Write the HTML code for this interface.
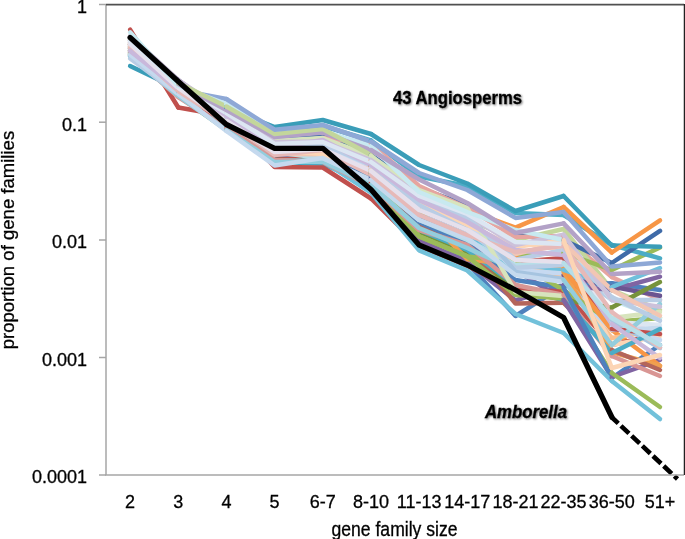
<!DOCTYPE html>
<html><head><meta charset="utf-8"><style>
html,body{margin:0;padding:0;background:#fff;width:685px;height:539px;overflow:hidden}
svg{display:block;will-change:transform}
text{font-family:"Liberation Sans",sans-serif;fill:#000;stroke:#000;stroke-width:0.3px}
</style></head><body>
<svg width="685" height="539" viewBox="0 0 685 539">
<defs><filter id="sh" x="-10%" y="-30%" width="120%" height="160%"><feGaussianBlur in="SourceAlpha" stdDeviation="0.9"/><feOffset dx="1" dy="1.3" result="b"/><feComponentTransfer><feFuncA type="linear" slope="0.55"/></feComponentTransfer><feMerge><feMergeNode/><feMergeNode in="SourceGraphic"/></feMerge></filter></defs>
<g fill="none" stroke-linejoin="round" stroke-linecap="round">
<polyline points="130.1,48.0 178.3,92.0" stroke="#4F81BD" stroke-width="4.5"/>
<polyline points="130.1,46.0 178.3,90.0" stroke="#8064A2" stroke-width="4.5"/>
<polyline points="130.1,42.0 178.3,80.0" stroke="#6B5591" stroke-width="4.5"/>
<polyline points="130.1,53.0 178.3,95.0" stroke="#77933C" stroke-width="4.5"/>
<polyline points="130.1,40.0 178.3,82.0" stroke="#3F6BA8" stroke-width="4.5"/>
<polyline points="130.1,51.0 178.3,90.0" stroke="#9BBB59" stroke-width="4.5"/>
<polyline points="130.1,55.0 178.3,88.0" stroke="#4BACC6" stroke-width="4.5"/>
<polyline points="130.1,50.0 178.3,94.0" stroke="#C0504D" stroke-width="4.5"/>
<polyline points="130.1,52.0 178.3,94.0" stroke="#B4655A" stroke-width="4.5"/>
<polyline points="130.1,54.0 178.3,95.0" stroke="#4BACC6" stroke-width="4.5"/>
<polyline points="130.1,48.0 178.3,92.0" stroke="#F0A050" stroke-width="4.5"/>
<polyline points="130.1,44.0 178.3,86.0" stroke="#8064A2" stroke-width="4.5"/>
<polyline points="130.1,50.0 178.3,90.0" stroke="#4F81BD" stroke-width="4.5"/>
<polyline points="130.1,47.0 178.3,89.0" stroke="#9BBB59" stroke-width="4.5"/>
<polyline points="130.1,44.0 178.3,86.0" stroke="#F79646" stroke-width="4.5"/>
<polyline points="130.1,48.0 178.3,92.0" stroke="#6FC0DC" stroke-width="4.5"/>
<polyline points="130.1,45.0 178.3,90.0" stroke="#8EA8D6" stroke-width="4.5"/>
<polyline points="130.1,50.0 178.3,83.0" stroke="#C3D69B" stroke-width="4.5"/>
<polyline points="130.1,52.0 178.3,84.0" stroke="#B3A2C7" stroke-width="4.5"/>
<polyline points="130.1,44.0 178.3,88.0" stroke="#F79646" stroke-width="4.5"/>
<polyline points="130.1,54.0 178.3,96.0" stroke="#9BBB59" stroke-width="4.5"/>
<polyline points="130.1,56.0 178.3,96.0" stroke="#72C1DA" stroke-width="4.5"/>
<polyline points="130.1,66.0 178.3,89.0" stroke="#3A9DB8" stroke-width="4.5"/>
<polyline points="130.1,29.6 178.3,107.5" stroke="#C0504D" stroke-width="4.5"/>
<polyline points="130.1,55.0 178.3,97.0" stroke="#D99694" stroke-width="4.5"/>
<polyline points="130.1,56.0 178.3,96.0" stroke="#93CDDD" stroke-width="4.5"/>
<polyline points="130.1,45.0 178.3,88.0" stroke="#FAC090" stroke-width="4.5"/>
<polyline points="130.1,44.0 178.3,88.0" stroke="#B7DEE8" stroke-width="4.5"/>
<polyline points="130.1,46.0 178.3,90.0" stroke="#C6D9F1" stroke-width="4.5"/>
<polyline points="130.1,43.0 178.3,86.0" stroke="#FCD5B5" stroke-width="4.5"/>
<polyline points="130.1,47.0 178.3,90.0" stroke="#F2C6B4" stroke-width="4.5"/>
<polyline points="130.1,46.0 178.3,90.0" stroke="#FCD5B5" stroke-width="4.5"/>
<polyline points="130.1,44.0 178.3,87.0" stroke="#B9CDE5" stroke-width="4.5"/>
<polyline points="130.1,40.0 178.3,85.0" stroke="#E6A5A0" stroke-width="4.5"/>
<polyline points="130.1,39.0 178.3,83.0" stroke="#A6C4E0" stroke-width="4.5"/>
<polyline points="130.1,40.0 178.3,84.0" stroke="#D7E4BD" stroke-width="4.5"/>
<polyline points="130.1,36.0 178.3,80.0" stroke="#CCC1DA" stroke-width="4.5"/>
<polyline points="130.1,58.5 178.3,94.0" stroke="#B9CDE5" stroke-width="4.5"/>
<polyline points="130.1,54.5 178.3,94.0" stroke="#C5D9EE" stroke-width="4.5"/>
<polyline points="130.1,48.0 178.3,91.0" stroke="#E6B9B8" stroke-width="4.5"/>
<polyline points="130.1,51.0 178.3,89.0" stroke="#C9B8DB" stroke-width="4.5"/>
<polyline points="130.1,44.0 178.3,88.0" stroke="#E6E0EC" stroke-width="4.5"/>
<polyline points="130.1,41.0 178.3,84.0" stroke="#DCE6F2" stroke-width="4.5"/>
<polyline points="130.1,32.3 178.3,86.0" stroke="#C8E9F0" stroke-width="4.5"/>
<polyline points="178.3,92.0 226.4,125.0" stroke="#4F81BD" stroke-width="4.5"/>
<polyline points="178.3,90.0 226.4,122.0" stroke="#8064A2" stroke-width="4.5"/>
<polyline points="178.3,80.0 226.4,115.0" stroke="#6B5591" stroke-width="4.5"/>
<polyline points="178.3,95.0 226.4,128.0" stroke="#77933C" stroke-width="4.5"/>
<polyline points="178.3,82.0 226.4,112.0" stroke="#3F6BA8" stroke-width="4.5"/>
<polyline points="178.3,90.0 226.4,118.0" stroke="#9BBB59" stroke-width="4.5"/>
<polyline points="178.3,88.0 226.4,106.0" stroke="#4BACC6" stroke-width="4.5"/>
<polyline points="178.3,94.0 226.4,126.0" stroke="#C0504D" stroke-width="4.5"/>
<polyline points="178.3,94.0 226.4,125.0" stroke="#B4655A" stroke-width="4.5"/>
<polyline points="178.3,95.0 226.4,126.0" stroke="#4BACC6" stroke-width="4.5"/>
<polyline points="178.3,92.0 226.4,120.0" stroke="#F0A050" stroke-width="4.5"/>
<polyline points="178.3,86.0 226.4,117.0" stroke="#8064A2" stroke-width="4.5"/>
<polyline points="178.3,90.0 226.4,121.0" stroke="#4F81BD" stroke-width="4.5"/>
<polyline points="178.3,89.0 226.4,119.0" stroke="#9BBB59" stroke-width="4.5"/>
<polyline points="178.3,86.0 226.4,113.0" stroke="#F79646" stroke-width="4.5"/>
<polyline points="178.3,92.0 226.4,118.0" stroke="#6FC0DC" stroke-width="4.5"/>
<polyline points="178.3,90.0 226.4,99.0" stroke="#8EA8D6" stroke-width="4.5"/>
<polyline points="178.3,88.0 226.4,112.0" stroke="#F79646" stroke-width="4.5"/>
<polyline points="178.3,96.0 226.4,130.0" stroke="#9BBB59" stroke-width="4.5"/>
<polyline points="178.3,96.0 226.4,128.0" stroke="#72C1DA" stroke-width="4.5"/>
<polyline points="178.3,89.0 226.4,108.0" stroke="#3A9DB8" stroke-width="4.5"/>
<polyline points="178.3,107.5 226.4,116.0" stroke="#C0504D" stroke-width="4.5"/>
<polyline points="178.3,85.0 226.4,112.0" stroke="#E6A5A0" stroke-width="4.5"/>
<polyline points="178.3,97.0 226.4,128.0" stroke="#D99694" stroke-width="4.5"/>
<polyline points="178.3,96.0 226.4,130.0" stroke="#93CDDD" stroke-width="4.5"/>
<polyline points="178.3,88.0 226.4,118.0" stroke="#FAC090" stroke-width="4.5"/>
<polyline points="178.3,88.0 226.4,120.0" stroke="#B7DEE8" stroke-width="4.5"/>
<polyline points="178.3,90.0 226.4,119.0" stroke="#C6D9F1" stroke-width="4.5"/>
<polyline points="178.3,86.0 226.4,116.0" stroke="#FCD5B5" stroke-width="4.5"/>
<polyline points="178.3,90.0 226.4,117.0" stroke="#F2C6B4" stroke-width="4.5"/>
<polyline points="178.3,90.0 226.4,118.0" stroke="#FCD5B5" stroke-width="4.5"/>
<polyline points="178.3,87.0 226.4,117.0" stroke="#B9CDE5" stroke-width="4.5"/>
<polyline points="178.3,83.0 226.4,113.0" stroke="#A6C4E0" stroke-width="4.5"/>
<polyline points="178.3,84.0 226.4,111.0" stroke="#D7E4BD" stroke-width="4.5"/>
<polyline points="178.3,80.0 226.4,112.0" stroke="#CCC1DA" stroke-width="4.5"/>
<polyline points="178.3,94.0 226.4,114.0" stroke="#B9CDE5" stroke-width="4.5"/>
<polyline points="178.3,94.0 226.4,131.0" stroke="#C5D9EE" stroke-width="4.5"/>
<polyline points="178.3,89.0 226.4,116.0" stroke="#C9B8DB" stroke-width="4.5"/>
<polyline points="178.3,91.0 226.4,122.0" stroke="#E6B9B8" stroke-width="4.5"/>
<polyline points="178.3,88.0 226.4,121.0" stroke="#E6E0EC" stroke-width="4.5"/>
<polyline points="178.3,84.0 226.4,113.0" stroke="#DCE6F2" stroke-width="4.5"/>
<polyline points="178.3,86.0 226.4,104.0" stroke="#C8E9F0" stroke-width="4.5"/>
<polyline points="178.3,84.0 226.4,110.0" stroke="#B3A2C7" stroke-width="4.5"/>
<polyline points="178.3,83.0 226.4,106.5" stroke="#C3D69B" stroke-width="4.5"/>
<polyline points="226.4,125.0 274.6,158.0 322.8,156.0 371.0,180.0" stroke="#4F81BD" stroke-width="4.5"/>
<polyline points="226.4,122.0 274.6,155.0 322.8,152.0 371.0,178.0" stroke="#8064A2" stroke-width="4.5"/>
<polyline points="226.4,115.0 274.6,147.0 322.8,143.0 371.0,166.0" stroke="#6B5591" stroke-width="4.5"/>
<polyline points="226.4,128.0 274.6,160.0 322.8,158.0 371.0,184.0" stroke="#77933C" stroke-width="4.5"/>
<polyline points="226.4,112.0 274.6,140.0 322.8,136.0 371.0,155.0" stroke="#3F6BA8" stroke-width="4.5"/>
<polyline points="226.4,118.0 274.6,150.0 322.8,146.0 371.0,170.0" stroke="#9BBB59" stroke-width="4.5"/>
<polyline points="226.4,106.0 274.6,131.0 322.8,126.0 371.0,140.5" stroke="#4BACC6" stroke-width="4.5"/>
<polyline points="226.4,126.0 274.6,160.0 322.8,157.0 371.0,183.0" stroke="#C0504D" stroke-width="4.5"/>
<polyline points="226.4,125.0 274.6,160.0 322.8,160.0 371.0,185.0" stroke="#B4655A" stroke-width="4.5"/>
<polyline points="226.4,126.0 274.6,162.0 322.8,163.8 371.0,186.0" stroke="#4BACC6" stroke-width="4.5"/>
<polyline points="226.4,120.0 274.6,153.8 322.8,153.0 371.0,172.0" stroke="#F0A050" stroke-width="4.5"/>
<polyline points="226.4,117.0 274.6,150.0 322.8,148.0 371.0,173.0" stroke="#8064A2" stroke-width="4.5"/>
<polyline points="226.4,121.0 274.6,154.0 322.8,152.0 371.0,176.0" stroke="#4F81BD" stroke-width="4.5"/>
<polyline points="226.4,119.0 274.6,152.0 322.8,150.0 371.0,174.0" stroke="#9BBB59" stroke-width="4.5"/>
<polyline points="226.4,113.0 274.6,153.8 322.8,153.8 371.0,166.0" stroke="#F79646" stroke-width="4.5"/>
<polyline points="226.4,118.0 274.6,150.0 322.8,150.0 371.0,172.0" stroke="#6FC0DC" stroke-width="4.5"/>
<polyline points="226.4,116.0 274.6,167.0 322.8,167.5 371.0,198.5" stroke="#C0504D" stroke-width="4.5"/>
<polyline points="226.4,130.0 274.6,162.0 322.8,160.0 371.0,185.0" stroke="#9BBB59" stroke-width="4.5"/>
<polyline points="226.4,128.0 274.6,160.0 322.8,161.0 371.0,192.5" stroke="#72C1DA" stroke-width="4.5"/>
<polyline points="226.4,112.0 274.6,150.0 322.8,145.0 371.0,160.0" stroke="#F79646" stroke-width="4.5"/>
<polyline points="226.4,108.0 274.6,127.0 322.8,120.0 371.0,134.0" stroke="#3A9DB8" stroke-width="4.5"/>
<polyline points="226.4,112.0 274.6,144.0 322.8,138.0 371.0,143.4" stroke="#E6A5A0" stroke-width="4.5"/>
<polyline points="226.4,128.0 274.6,160.0 322.8,162.0 371.0,186.0" stroke="#D99694" stroke-width="4.5"/>
<polyline points="226.4,130.0 274.6,162.0 322.8,161.6 371.0,185.0" stroke="#93CDDD" stroke-width="4.5"/>
<polyline points="226.4,118.0 274.6,151.0 322.8,149.0 371.0,168.0" stroke="#FAC090" stroke-width="4.5"/>
<polyline points="226.4,120.0 274.6,152.0 322.8,158.2 371.0,180.0" stroke="#B7DEE8" stroke-width="4.5"/>
<polyline points="226.4,119.0 274.6,150.0 322.8,146.0 371.0,168.0" stroke="#C6D9F1" stroke-width="4.5"/>
<polyline points="226.4,116.0 274.6,147.0 322.8,143.0 371.0,160.0" stroke="#FCD5B5" stroke-width="4.5"/>
<polyline points="226.4,117.0 274.6,154.0 322.8,154.3 371.0,170.0" stroke="#F2C6B4" stroke-width="4.5"/>
<polyline points="226.4,118.0 274.6,150.0 322.8,154.0 371.0,172.0" stroke="#FCD5B5" stroke-width="4.5"/>
<polyline points="226.4,117.0 274.6,148.0 322.8,144.0 371.0,165.0" stroke="#B9CDE5" stroke-width="4.5"/>
<polyline points="226.4,113.0 274.6,140.5 322.8,139.0 371.0,158.0" stroke="#A6C4E0" stroke-width="4.5"/>
<polyline points="226.4,111.0 274.6,141.0 322.8,138.0 371.0,156.0" stroke="#D7E4BD" stroke-width="4.5"/>
<polyline points="226.4,112.0 274.6,142.0 322.8,141.5 371.0,160.0" stroke="#CCC1DA" stroke-width="4.5"/>
<polyline points="226.4,114.0 274.6,145.0 322.8,145.0 371.0,163.0" stroke="#B9CDE5" stroke-width="4.5"/>
<polyline points="226.4,131.0 274.6,165.5 322.8,158.0 371.0,180.0" stroke="#C5D9EE" stroke-width="4.5"/>
<polyline points="226.4,116.0 274.6,148.0 322.8,140.0 371.0,165.0" stroke="#C9B8DB" stroke-width="4.5"/>
<polyline points="226.4,122.0 274.6,155.0 322.8,150.0 371.0,175.0" stroke="#E6B9B8" stroke-width="4.5"/>
<polyline points="226.4,121.0 274.6,152.0 322.8,149.0 371.0,171.0" stroke="#E6E0EC" stroke-width="4.5"/>
<polyline points="226.4,113.0 274.6,144.0 322.8,142.0 371.0,162.0" stroke="#DCE6F2" stroke-width="4.5"/>
<polyline points="226.4,104.0 274.6,132.0 322.8,131.0 371.0,146.0" stroke="#C8E9F0" stroke-width="4.5"/>
<polyline points="226.4,110.0 274.6,137.0 322.8,132.6 371.0,150.0" stroke="#B3A2C7" stroke-width="4.5"/>
<polyline points="226.4,106.5 274.6,134.0 322.8,129.0 371.0,155.0" stroke="#C3D69B" stroke-width="4.5"/>
<polyline points="226.4,99.0 274.6,129.7 322.8,125.0 371.0,141.5" stroke="#8EA8D6" stroke-width="4.5"/>
<polyline points="371.0,180.0 419.1,226.0 467.3,263.0 515.5,316.0 563.6,285.6" stroke="#4F81BD" stroke-width="4.5"/>
<polyline points="371.0,178.0 419.1,240.0 467.3,262.0 515.5,300.5 563.6,285.0" stroke="#8064A2" stroke-width="4.5"/>
<polyline points="371.0,166.0 419.1,210.0 467.3,230.0 515.5,260.0 563.6,275.0" stroke="#6B5591" stroke-width="4.5"/>
<polyline points="371.0,184.0 419.1,232.0 467.3,252.0 515.5,290.0 563.6,299.7" stroke="#77933C" stroke-width="4.5"/>
<polyline points="371.0,155.0 419.1,188.0 467.3,205.0 515.5,235.0 563.6,240.0" stroke="#3F6BA8" stroke-width="4.5"/>
<polyline points="371.0,170.0 419.1,210.0 467.3,228.0 515.5,255.0 563.6,252.7" stroke="#9BBB59" stroke-width="4.5"/>
<polyline points="371.0,140.5 419.1,176.5 467.3,186.0 515.5,213.0 563.6,215.0" stroke="#4BACC6" stroke-width="4.5"/>
<polyline points="371.0,183.0 419.1,228.0 467.3,248.0 515.5,262.0 563.6,258.0" stroke="#C0504D" stroke-width="4.5"/>
<polyline points="371.0,185.0 419.1,225.0 467.3,245.0 515.5,303.5 563.6,302.8" stroke="#B4655A" stroke-width="4.5"/>
<polyline points="371.0,186.0 419.1,230.0 467.3,250.0 515.5,285.0 563.6,300.0" stroke="#4BACC6" stroke-width="4.5"/>
<polyline points="371.0,172.0 419.1,210.0 467.3,259.3 515.5,265.0 563.6,272.0" stroke="#F0A050" stroke-width="4.5"/>
<polyline points="371.0,173.0 419.1,218.0 467.3,240.0 515.5,270.0 563.6,300.0" stroke="#8064A2" stroke-width="4.5"/>
<polyline points="371.0,176.0 419.1,222.0 467.3,244.0 515.5,280.0 563.6,287.5" stroke="#4F81BD" stroke-width="4.5"/>
<polyline points="371.0,174.0 419.1,236.4 467.3,256.4 515.5,262.0 563.6,290.0" stroke="#9BBB59" stroke-width="4.5"/>
<polyline points="371.0,166.0 419.1,200.0 467.3,220.0 515.5,258.0 563.6,269.0" stroke="#F79646" stroke-width="4.5"/>
<polyline points="371.0,172.0 419.1,215.0 467.3,235.0 515.5,269.0 563.6,270.0" stroke="#6FC0DC" stroke-width="4.5"/>
<polyline points="371.0,198.5 419.1,246.0 467.3,266.0 515.5,290.0 563.6,291.7" stroke="#C0504D" stroke-width="4.5"/>
<polyline points="371.0,185.0 419.1,236.4 467.3,256.4 515.5,295.0 563.6,298.6" stroke="#9BBB59" stroke-width="4.5"/>
<polyline points="371.0,192.5 419.1,250.4 467.3,270.5 515.5,314.0 563.6,333.0" stroke="#72C1DA" stroke-width="4.5"/>
<polyline points="371.0,160.0 419.1,190.0 467.3,210.0 515.5,227.6 563.6,207.0" stroke="#F79646" stroke-width="4.5"/>
<polyline points="371.0,134.0 419.1,165.0 467.3,183.5 515.5,211.0 563.6,196.0" stroke="#3A9DB8" stroke-width="4.5"/>
<polyline points="371.0,155.0 419.1,205.0 467.3,219.0 515.5,240.0 563.6,229.0" stroke="#C3D69B" stroke-width="4.5"/>
<polyline points="371.0,143.4 419.1,186.0 467.3,208.0 515.5,237.0 563.6,236.0" stroke="#E6A5A0" stroke-width="4.5"/>
<polyline points="371.0,186.0 419.1,230.0 467.3,245.0 515.5,285.0 563.6,295.0" stroke="#D99694" stroke-width="4.5"/>
<polyline points="371.0,185.0 419.1,228.0 467.3,248.0 515.5,270.0 563.6,280.0" stroke="#93CDDD" stroke-width="4.5"/>
<polyline points="371.0,168.0 419.1,200.0 467.3,220.0 515.5,268.0 563.6,275.0" stroke="#FAC090" stroke-width="4.5"/>
<polyline points="371.0,180.0 419.1,220.0 467.3,240.0 515.5,265.0 563.6,263.0" stroke="#B7DEE8" stroke-width="4.5"/>
<polyline points="371.0,168.0 419.1,205.0 467.3,225.0 515.5,270.0 563.6,273.6" stroke="#C6D9F1" stroke-width="4.5"/>
<polyline points="371.0,160.0 419.1,198.0 467.3,216.0 515.5,242.0 563.6,250.0" stroke="#FCD5B5" stroke-width="4.5"/>
<polyline points="371.0,170.0 419.1,205.0 467.3,222.0 515.5,254.0 563.6,243.0" stroke="#F2C6B4" stroke-width="4.5"/>
<polyline points="371.0,172.0 419.1,205.0 467.3,225.0 515.5,247.0 563.6,240.0" stroke="#FCD5B5" stroke-width="4.5"/>
<polyline points="371.0,165.0 419.1,205.0 467.3,230.0 515.5,267.8 563.6,265.0" stroke="#B9CDE5" stroke-width="4.5"/>
<polyline points="371.0,158.0 419.1,194.0 467.3,212.0 515.5,272.0 563.6,279.0" stroke="#A6C4E0" stroke-width="4.5"/>
<polyline points="371.0,156.0 419.1,190.0 467.3,208.0 515.5,292.0 563.6,296.0" stroke="#D7E4BD" stroke-width="4.5"/>
<polyline points="371.0,160.0 419.1,195.0 467.3,215.0 515.5,245.0 563.6,234.6" stroke="#CCC1DA" stroke-width="4.5"/>
<polyline points="371.0,163.0 419.1,200.0 467.3,218.0 515.5,259.6 563.6,250.0" stroke="#B9CDE5" stroke-width="4.5"/>
<polyline points="371.0,180.0 419.1,220.0 467.3,238.0 515.5,275.0 563.6,282.0" stroke="#C5D9EE" stroke-width="4.5"/>
<polyline points="371.0,165.0 419.1,200.0 467.3,222.0 515.5,250.0 563.6,255.0" stroke="#C9B8DB" stroke-width="4.5"/>
<polyline points="371.0,175.0 419.1,215.0 467.3,235.0 515.5,252.0 563.6,245.7" stroke="#E6B9B8" stroke-width="4.5"/>
<polyline points="371.0,171.0 419.1,210.0 467.3,230.0 515.5,260.0 563.6,262.0" stroke="#E6E0EC" stroke-width="4.5"/>
<polyline points="371.0,162.0 419.1,196.0 467.3,214.0 515.5,242.0 563.6,244.0" stroke="#DCE6F2" stroke-width="4.5"/>
<polyline points="371.0,146.0 419.1,192.0 467.3,212.0 515.5,230.0 563.6,240.0" stroke="#C8E9F0" stroke-width="4.5"/>
<polyline points="371.0,150.0 419.1,179.5 467.3,203.0 515.5,233.0 563.6,223.4" stroke="#B3A2C7" stroke-width="4.5"/>
<polyline points="371.0,141.5 419.1,173.0 467.3,190.0 515.5,217.9 563.6,212.0" stroke="#8EA8D6" stroke-width="4.5"/>
<polyline points="563.6,298.6 611.8,373.0" stroke="#9BBB59" stroke-width="4.5"/>
<polyline points="563.6,275.0 611.8,338.0" stroke="#FAC090" stroke-width="4.5"/>
<polyline points="563.6,296.0 611.8,318.0" stroke="#D7E4BD" stroke-width="4.5"/>
<polyline points="563.6,273.6 611.8,326.0" stroke="#C6D9F1" stroke-width="4.5"/>
<polyline points="563.6,250.0 611.8,345.0" stroke="#FCD5B5" stroke-width="4.5"/>
<polyline points="563.6,244.0 611.8,322.0" stroke="#DCE6F2" stroke-width="4.5"/>
<polyline points="563.6,262.0 611.8,320.0" stroke="#E6E0EC" stroke-width="4.5"/>
<polyline points="563.6,279.0 611.8,320.0" stroke="#A6C4E0" stroke-width="4.5"/>
<polyline points="563.6,265.0 611.8,300.0" stroke="#B9CDE5" stroke-width="4.5"/>
<polyline points="563.6,282.0 611.8,330.0" stroke="#C5D9EE" stroke-width="4.5"/>
<polyline points="563.6,236.0 611.8,277.0" stroke="#E6A5A0" stroke-width="4.5"/>
<polyline points="563.6,240.0 611.8,300.0" stroke="#C8E9F0" stroke-width="4.5"/>
<polyline points="563.6,229.0 611.8,290.0" stroke="#C3D69B" stroke-width="4.5"/>
<polyline points="563.6,291.7 611.8,345.0" stroke="#C0504D" stroke-width="4.5"/>
<polyline points="563.6,285.6 611.8,283.3" stroke="#4F81BD" stroke-width="4.5"/>
<polyline points="563.6,285.0 611.8,290.0" stroke="#8064A2" stroke-width="4.5"/>
<polyline points="563.6,275.0 611.8,286.6" stroke="#6B5591" stroke-width="4.5"/>
<polyline points="563.6,299.7 611.8,307.6" stroke="#77933C" stroke-width="4.5"/>
<polyline points="563.6,240.0 611.8,263.0" stroke="#3F6BA8" stroke-width="4.5"/>
<polyline points="563.6,252.7 611.8,270.0" stroke="#9BBB59" stroke-width="4.5"/>
<polyline points="563.6,215.0 611.8,245.0" stroke="#4BACC6" stroke-width="4.5"/>
<polyline points="563.6,258.0 611.8,329.0" stroke="#C0504D" stroke-width="4.5"/>
<polyline points="563.6,302.8 611.8,350.0" stroke="#B4655A" stroke-width="4.5"/>
<polyline points="563.6,272.0 611.8,352.0" stroke="#F0A050" stroke-width="4.5"/>
<polyline points="563.6,290.0 611.8,322.0" stroke="#9BBB59" stroke-width="4.5"/>
<polyline points="563.6,269.0 611.8,330.0" stroke="#F79646" stroke-width="4.5"/>
<polyline points="563.6,270.0 611.8,287.0" stroke="#6FC0DC" stroke-width="4.5"/>
<polyline points="563.6,295.0 611.8,356.0" stroke="#D99694" stroke-width="4.5"/>
<polyline points="563.6,250.0 611.8,297.0" stroke="#B9CDE5" stroke-width="4.5"/>
<polyline points="563.6,255.0 611.8,324.0" stroke="#C9B8DB" stroke-width="4.5"/>
<polyline points="563.6,245.7 611.8,312.0" stroke="#E6B9B8" stroke-width="4.5"/>
<polyline points="563.6,234.6 611.8,300.0" stroke="#CCC1DA" stroke-width="4.5"/>
<polyline points="563.6,243.0 611.8,290.0" stroke="#F2C6B4" stroke-width="4.5"/>
<polyline points="563.6,300.0 611.8,353.0" stroke="#4BACC6" stroke-width="4.5"/>
<polyline points="563.6,280.0 611.8,345.0" stroke="#93CDDD" stroke-width="4.5"/>
<polyline points="563.6,300.0 611.8,377.0" stroke="#8064A2" stroke-width="4.5"/>
<polyline points="563.6,287.5 611.8,378.0" stroke="#4F81BD" stroke-width="4.5"/>
<polyline points="563.6,263.0 611.8,318.0" stroke="#B7DEE8" stroke-width="4.5"/>
<polyline points="563.6,240.0 611.8,368.0" stroke="#FCD5B5" stroke-width="4.5"/>
<polyline points="563.6,196.0 611.8,245.5" stroke="#3A9DB8" stroke-width="4.5"/>
<polyline points="563.6,207.0 611.8,252.5" stroke="#F79646" stroke-width="4.5"/>
<polyline points="563.6,223.4 611.8,274.0" stroke="#B3A2C7" stroke-width="4.5"/>
<polyline points="563.6,212.0 611.8,266.5" stroke="#8EA8D6" stroke-width="4.5"/>
<polyline points="563.6,333.0 611.8,381.0" stroke="#72C1DA" stroke-width="4.5"/>
<polyline points="611.8,378.0 660.0,345.0" stroke="#4F81BD" stroke-width="4.5"/>
<polyline points="611.8,377.0 660.0,360.0" stroke="#8064A2" stroke-width="4.5"/>
<polyline points="611.8,322.0 660.0,318.0" stroke="#9BBB59" stroke-width="4.5"/>
<polyline points="611.8,330.0 660.0,365.8" stroke="#F79646" stroke-width="4.5"/>
<polyline points="611.8,345.0 660.0,334.0" stroke="#C0504D" stroke-width="4.5"/>
<polyline points="611.8,290.0 660.0,310.0" stroke="#C3D69B" stroke-width="4.5"/>
<polyline points="611.8,300.0 660.0,318.0" stroke="#C8E9F0" stroke-width="4.5"/>
<polyline points="611.8,318.0 660.0,312.0" stroke="#D7E4BD" stroke-width="4.5"/>
<polyline points="611.8,322.0 660.0,325.0" stroke="#DCE6F2" stroke-width="4.5"/>
<polyline points="611.8,338.0 660.0,330.0" stroke="#FAC090" stroke-width="4.5"/>
<polyline points="611.8,345.0 660.0,336.0" stroke="#FCD5B5" stroke-width="4.5"/>
<polyline points="611.8,320.0 660.0,333.0" stroke="#E6E0EC" stroke-width="4.5"/>
<polyline points="611.8,326.0 660.0,340.0" stroke="#C6D9F1" stroke-width="4.5"/>
<polyline points="611.8,320.0 660.0,348.0" stroke="#A6C4E0" stroke-width="4.5"/>
<polyline points="611.8,330.0 660.0,328.0" stroke="#C5D9EE" stroke-width="4.5"/>
<polyline points="611.8,277.0 660.0,300.0" stroke="#E6A5A0" stroke-width="4.5"/>
<polyline points="611.8,300.0 660.0,300.0" stroke="#B9CDE5" stroke-width="4.5"/>
<polyline points="611.8,283.3 660.0,290.0" stroke="#4F81BD" stroke-width="4.5"/>
<polyline points="611.8,290.0 660.0,276.7" stroke="#8064A2" stroke-width="4.5"/>
<polyline points="611.8,270.0 660.0,247.5" stroke="#9BBB59" stroke-width="4.5"/>
<polyline points="611.8,245.0 660.0,258.3" stroke="#4BACC6" stroke-width="4.5"/>
<polyline points="611.8,263.0 660.0,230.8" stroke="#3F6BA8" stroke-width="4.5"/>
<polyline points="611.8,286.6 660.0,295.8" stroke="#6B5591" stroke-width="4.5"/>
<polyline points="611.8,307.6 660.0,282.0" stroke="#77933C" stroke-width="4.5"/>
<polyline points="611.8,287.0 660.0,268.0" stroke="#6FC0DC" stroke-width="4.5"/>
<polyline points="611.8,329.0 660.0,334.0" stroke="#C0504D" stroke-width="4.5"/>
<polyline points="611.8,352.0 660.0,366.0" stroke="#F0A050" stroke-width="4.5"/>
<polyline points="611.8,350.0 660.0,370.0" stroke="#B4655A" stroke-width="4.5"/>
<polyline points="611.8,356.0 660.0,376.0" stroke="#D99694" stroke-width="4.5"/>
<polyline points="611.8,345.0 660.0,304.0" stroke="#93CDDD" stroke-width="4.5"/>
<polyline points="611.8,300.0 660.0,306.7" stroke="#CCC1DA" stroke-width="4.5"/>
<polyline points="611.8,290.0 660.0,315.8" stroke="#F2C6B4" stroke-width="4.5"/>
<polyline points="611.8,297.0 660.0,320.8" stroke="#B9CDE5" stroke-width="4.5"/>
<polyline points="611.8,353.0 660.0,329.0" stroke="#4BACC6" stroke-width="4.5"/>
<polyline points="611.8,324.0 660.0,358.0" stroke="#C9B8DB" stroke-width="4.5"/>
<polyline points="611.8,312.0 660.0,347.5" stroke="#E6B9B8" stroke-width="4.5"/>
<polyline points="611.8,318.0 660.0,345.0" stroke="#B7DEE8" stroke-width="4.5"/>
<polyline points="611.8,368.0 660.0,355.0" stroke="#FCD5B5" stroke-width="4.5"/>
<polyline points="611.8,245.5 660.0,246.7" stroke="#3A9DB8" stroke-width="4.5"/>
<polyline points="611.8,252.5 660.0,220.3" stroke="#F79646" stroke-width="4.5"/>
<polyline points="611.8,274.0 660.0,271.7" stroke="#B3A2C7" stroke-width="4.5"/>
<polyline points="611.8,266.5 660.0,262.5" stroke="#8EA8D6" stroke-width="4.5"/>
<polyline points="611.8,373.0 660.0,407.0" stroke="#9BBB59" stroke-width="4.5"/>
<polyline points="611.8,381.0 660.0,419.0" stroke="#72C1DA" stroke-width="4.5"/>
<polyline points="130.1,37.5 178.3,81.5 226.4,124.5 274.6,148.3 322.8,148.3 371.0,189.5 419.1,245.0 467.3,265.0 515.5,290.0 563.6,317.5 611.8,417.0" stroke="#000" stroke-width="5.3"/>
<line x1="611.5" y1="417" x2="677.5" y2="479" stroke="#000" stroke-width="4.6" stroke-dasharray="11,3.66" stroke-dashoffset="1.7" stroke-linecap="butt"/>
</g>
<g stroke="#a6a6a6" stroke-width="1.5" fill="none">
<line x1="106" y1="4.5" x2="106" y2="475"/>
<line x1="105" y1="475" x2="684" y2="475"/>
<line x1="99" y1="4.5" x2="106" y2="4.5"/>
<line x1="99" y1="122.2" x2="106" y2="122.2"/>
<line x1="99" y1="240" x2="106" y2="240"/>
<line x1="99" y1="357.5" x2="106" y2="357.5"/>
<line x1="99" y1="475" x2="106" y2="475"/>
</g>
<line x1="106" y1="4.6" x2="684" y2="4.6" stroke="#505050" stroke-width="1.7"/>
<line x1="684.4" y1="4" x2="684.4" y2="475" stroke="#222" stroke-width="1.3"/>
<g font-size="18" text-anchor="end">
<text x="87" y="12.8">1</text>
<text x="87" y="130.5">0.1</text>
<text x="87" y="248.3">0.01</text>
<text x="87" y="365.8">0.001</text>
<text x="87" y="483.3">0.0001</text>
</g>
<g font-size="18" text-anchor="middle">
<text x="130.1" y="508.3">2</text>
<text x="178.3" y="508.3">3</text>
<text x="226.4" y="508.3">4</text>
<text x="274.6" y="508.3">5</text>
<text x="322.8" y="508.3">6-7</text>
<text x="371.0" y="508.3">8-10</text>
<text x="419.1" y="508.3">11-13</text>
<text x="467.3" y="508.3">14-17</text>
<text x="515.5" y="508.3">18-21</text>
<text x="563.6" y="508.3">22-35</text>
<text x="611.8" y="508.3">36-50</text>
<text x="660.0" y="508.3">51+</text>
</g>
<text x="331.5" y="535.6" font-size="19.3" textLength="126" lengthAdjust="spacingAndGlyphs">gene family size</text>
<text transform="translate(14.3,349.3) rotate(-90)" font-size="18.8" textLength="218.5" lengthAdjust="spacingAndGlyphs">proportion of gene families</text>
<text x="393" y="103.7" font-size="18.8" font-weight="bold" filter="url(#sh)" stroke="#000" stroke-width="0.45" textLength="129" lengthAdjust="spacingAndGlyphs">43 Angiosperms</text>
<text x="485" y="418.4" font-size="17.5" font-weight="bold" font-style="italic" filter="url(#sh)" stroke="#000" stroke-width="0.45" textLength="82" lengthAdjust="spacingAndGlyphs">Amborella</text>
</svg>
</body></html>
